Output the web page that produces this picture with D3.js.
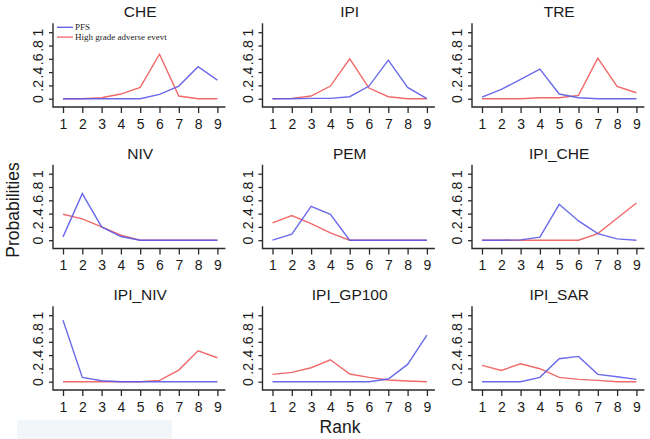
<!DOCTYPE html>
<html>
<head>
<meta charset="utf-8">
<script src="https://cdn.jsdelivr.net/npm/d3@7"></script>
<style>
  html, body { margin: 0; padding: 0; background: #fff; }
  svg { display: block; }
  text { font-family: "Liberation Sans", Arial, sans-serif; fill: #1a1a1a; }
  text.serif { font-family: "Liberation Serif", "Times New Roman", serif; }
</style>
</head>
<body>
<svg id="chart" width="650" height="439"></svg>
<script>
// ---- data ----
const ranks = [1, 2, 3, 4, 5, 6, 7, 8, 9];
const panels = ["CHE", "IPI", "TRE", "NIV", "PEM", "IPI_CHE", "IPI_NIV", "IPI_GP100", "IPI_SAR"];
const pfs = [
  [0, 0, 0, 0, 0, 0.065, 0.19, 0.48, 0.28],
  [0, 0, 0.005, 0.005, 0.03, 0.19, 0.58, 0.17, 0],
  [0.025, 0.14, 0.29, 0.445, 0.07, 0.015, 0, 0, 0],
  [0.05, 0.70, 0.20, 0.055, 0, 0, 0, 0, 0],
  [0, 0.09, 0.51, 0.39, 0, 0, 0, 0, 0],
  [0, 0, 0.005, 0.045, 0.54, 0.29, 0.10, 0.02, 0],
  [0.925, 0.065, 0.015, 0, 0, 0, 0, 0, 0],
  [0, 0, 0, 0, 0, 0, 0.04, 0.26, 0.70],
  [0, 0, 0, 0.065, 0.345, 0.38, 0.11, 0.075, 0.035]
];
const adverse = [
  [0, 0, 0.015, 0.07, 0.17, 0.67, 0.04, 0, 0],
  [0, 0.005, 0.04, 0.19, 0.60, 0.16, 0.03, 0, 0],
  [0, 0, 0, 0.015, 0.015, 0.05, 0.61, 0.185, 0.09],
  [0.39, 0.32, 0.20, 0.075, 0, 0, 0, 0, 0],
  [0.26, 0.37, 0.25, 0.11, 0, 0, 0, 0, 0],
  [0, 0, 0, 0, 0, 0, 0.10, 0.33, 0.56],
  [0, 0, 0, 0, 0, 0.02, 0.175, 0.465, 0.36],
  [0.11, 0.14, 0.21, 0.33, 0.115, 0.065, 0.025, 0.01, 0],
  [0.245, 0.17, 0.27, 0.195, 0.065, 0.035, 0.02, 0, 0]
];
const yTicks = [0, 0.2, 0.4, 0.6, 0.8, 1];
const yTickLabels = ["0", ".2", ".4", ".6", ".8", "1"];
const legendLabels = ["PFS", "High grade adverse evevt"];
const xTitle = "Rank";
const yTitle = "Probabilities";

// ---- style / layout ----
const blue = "#5a5ae8";
const red = "#f06a6a";
const axisColor = "#2a2a2a";
const colStep = 209.5, rowStep = 141.5;
const x0 = 63, xSpan = 154.4;     // pixel of rank 1, width to rank 9
const y0 = 98.7, ySpan = 66.5;    // pixel of prob 0, height to prob 1

const svg = d3.select("#chart");

// faint box at bottom-left (artifact in the original)
svg.append("rect").attr("x", 17).attr("y", 420).attr("width", 155).attr("height", 19)
  .attr("fill", "#f2f6f9");

panels.forEach((name, i) => {
  const c = i % 3, r = Math.floor(i / 3);
  const g = svg.append("g");
  const x = d3.scaleLinear().domain([1, 9]).range([x0 + c * colStep, x0 + c * colStep + xSpan]);
  const y = d3.scaleLinear().domain([0, 1]).range([y0 + r * rowStep, y0 + r * rowStep - ySpan]);

  const left = x(1) - 10, right = x(9) + 8;
  const top = y(1.135), bottom = y(-0.125);

  // L-shaped frame
  g.append("path")
    .attr("d", `M${left},${top}V${bottom}H${right}`)
    .attr("fill", "none").attr("stroke", axisColor).attr("stroke-width", 1.4);

  // x axis
  const xa = g.append("g").attr("transform", `translate(0,${bottom})`)
    .call(d3.axisBottom(x).tickValues(ranks).tickFormat(d3.format("d")).tickSize(6).tickPadding(6));
  xa.select(".domain").remove();
  xa.selectAll(".tick line").attr("stroke", axisColor).attr("stroke-width", 1.3);
  xa.selectAll(".tick text").style("font-size", "14px").attr("fill", "#1a1a1a");

  // y axis
  const ya = g.append("g").attr("transform", `translate(${left},0)`)
    .call(d3.axisLeft(y).tickValues(yTicks).tickSize(4).tickFormat(() => ""));
  ya.select(".domain").remove();
  ya.selectAll(".tick line").attr("stroke", axisColor).attr("stroke-width", 1.3);
  ya.selectAll(".tick").append("text")
    .attr("transform", "translate(-15,0) rotate(-90)")
    .attr("text-anchor", "middle")
    .attr("dy", "0.36em")
    .style("font-size", "14px")
    .text((d, k) => yTickLabels[k]);

  // title
  g.append("text").attr("x", (x(1) + x(9)) / 2).attr("y", 17.3 + r * rowStep)
    .attr("text-anchor", "middle").style("font-size", "15.5px").text(name);

  const line = d3.line().x((d, k) => x(ranks[k])).y(d => y(d));
  g.append("path").datum(adverse[i]).attr("d", line)
    .attr("fill", "none").attr("stroke", red).attr("stroke-width", 1.4);
  g.append("path").datum(pfs[i]).attr("d", line)
    .attr("fill", "none").attr("stroke", blue).attr("stroke-width", 1.4).attr("stroke-opacity", 0.9);

  // legend in first panel
  if (i === 0) {
    const lg = g.append("g");
    [blue, red].forEach((col, k) => {
      const ly = 27.3 + k * 9.8;
      lg.append("line").attr("x1", 57).attr("x2", 73).attr("y1", ly).attr("y2", ly)
        .attr("stroke", col).attr("stroke-width", 1.3);
      lg.append("text").attr("class", "serif").attr("x", 75).attr("y", ly).attr("dy", "0.33em")
        .style("font-size", "9px").text(legendLabels[k]);
    });
  }
});

// axis titles
svg.append("text").attr("x", 340).attr("y", 433).attr("text-anchor", "middle")
  .style("font-size", "17.5px").text(xTitle);
svg.append("text").attr("transform", "translate(19,210) rotate(-90)")
  .attr("text-anchor", "middle").style("font-size", "17.5px").text(yTitle);
</script>
</body>
</html>
